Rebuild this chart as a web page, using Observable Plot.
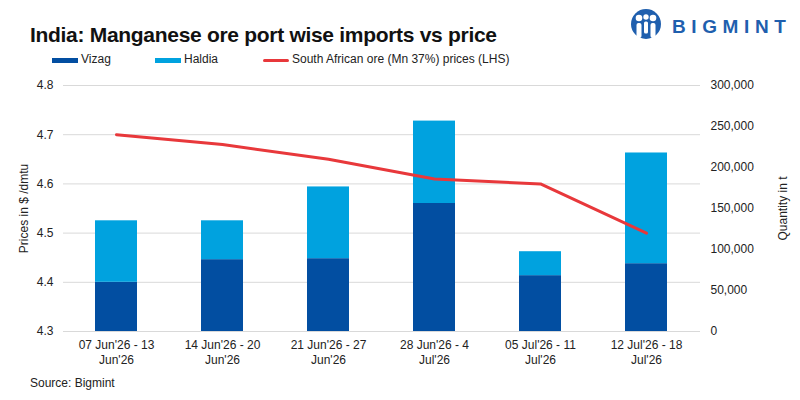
<!DOCTYPE html>
<html>
<head>
<meta charset="utf-8">
<script src="https://cdn.jsdelivr.net/npm/d3@7"></script>
<script src="https://cdn.jsdelivr.net/npm/@observablehq/plot@0.6"></script>
<style>
  body { margin: 0; background: #fff; font-family: "Liberation Sans", Arial, sans-serif; color: #1a1a1a; }
  #wrap { position: relative; width: 800px; height: 400px; overflow: hidden; }
  #title { position: absolute; left: 30px; top: 23px; font-size: 21px; font-weight: bold; letter-spacing: -0.3px; color: #111; white-space: nowrap; }
  #legend { position: absolute; left: 0; top: 52px; font-size: 12px; color: #222; }
  .li { position: absolute; top: 0; white-space: nowrap; }
  .sw { position: absolute; top: 6px; width: 26px; height: 5px; }
  .lt { position: absolute; top: 0; left: 29px; }
  #logo { position: absolute; left: 628px; top: 8px; }
  #chart { position: absolute; left: 0; top: 75px; }
  #source { position: absolute; left: 30px; top: 376px; font-size: 12px; color: #222; }
</style>
</head>
<body>
<div id="wrap">
  <div id="title">India: Manganese ore port wise imports vs price</div>
  <div id="legend"></div>
  <svg id="logo" width="172" height="32" viewBox="0 0 172 32">
    <circle cx="18" cy="16" r="15" fill="#1f5fae"/>
    <circle cx="11" cy="10" r="3.3" fill="#fff"/>
    <circle cx="25" cy="10" r="3.3" fill="#fff"/>
    <circle cx="18" cy="9" r="2.7" fill="#fff"/>
    <rect x="8.5" y="15" width="5" height="15" rx="2" fill="#fff"/>
    <rect x="22.5" y="15" width="5" height="15" rx="2" fill="#fff"/>
    <rect x="16" y="13.5" width="4" height="12" rx="1.5" fill="#fff"/>
    <text x="44" y="25" font-family="Liberation Sans, Arial, sans-serif" font-weight="bold" font-size="19" letter-spacing="5.6" fill="#1f5fae">BIGMINT</text>
  </svg>
  <div id="chart"></div>
  <div id="source">Source: Bigmint</div>
</div>
<script>
// ---- data ----
const weeks = [
  "07 Jun'26 - 13\nJun'26",
  "14 Jun'26 - 20\nJun'26",
  "21 Jun'26 - 27\nJun'26",
  "28 Jun'26 - 4\nJul'26",
  "05 Jul'26 - 11\nJul'26",
  "12 Jul'26 - 18\nJul'26"
];
const vizag  = [60000, 87600, 88800, 156100, 68100, 82700];
const haldia = [75000, 47400, 87500, 100500, 29200, 135000];
const prices = [4.70, 4.68, 4.65, 4.61, 4.60, 4.50];
const series = ["Vizag", "Haldia", "South African ore (Mn 37%) prices (LHS)"];
const colors = ["#024ea1", "#00a2df", "#e8383b"];
const qtyTicks = [0, 50000, 100000, 150000, 200000, 250000, 300000];
const priceTicks = [4.3, 4.4, 4.5, 4.6, 4.7, 4.8];
const priceDomain = [4.3, 4.8];
const qtyDomain = [0, 300000];

// ---- legend ----
const legend = document.getElementById("legend");
const legendX = [52, 155, 263];
series.forEach((s, i) => {
  const d = document.createElement("div");
  d.className = "li";
  d.style.left = legendX[i] + "px";
  const sw = document.createElement("div");
  sw.className = "sw";
  sw.style.background = colors[i];
  if (i === 2) { sw.style.height = "3px"; sw.style.top = "7px"; sw.style.borderRadius = "2px"; }
  const t = document.createElement("div");
  t.className = "lt";
  t.textContent = s;
  d.appendChild(sw); d.appendChild(t);
  legend.appendChild(d);
});

// ---- build tables ----
const barData = [];
weeks.forEach((w, i) => {
  barData.push({week: w, port: "Vizag", value: vizag[i]});
  barData.push({week: w, port: "Haldia", value: haldia[i]});
});
// map price (LHS) onto the quantity (RHS) scale
const p2q = p => (p - priceDomain[0]) / (priceDomain[1] - priceDomain[0]) * (qtyDomain[1] - qtyDomain[0]) + qtyDomain[0];
const lineData = weeks.map((w, i) => ({week: w, price: prices[i], q: p2q(prices[i])}));
const priceTickQ = priceTicks.map(p2q);
const priceLabel = new Map(priceTicks.map(p => [p2q(p), p.toFixed(1)]));

const chart = Plot.plot({
  width: 800,
  height: 300,
  marginTop: 10,
  marginBottom: 44,
  marginLeft: 63,
  marginRight: 100,
  style: {fontFamily: "'Liberation Sans', Arial, sans-serif", fontSize: "12px", color: "#222", background: "transparent"},
  x: {domain: weeks, paddingInner: 0.6, paddingOuter: 0.3, align: 0.5},
  y: {domain: qtyDomain},
  color: {domain: ["Vizag", "Haldia"], range: [colors[0], colors[1]]},
  marks: [
    Plot.gridY(priceTickQ, {stroke: "#d9d9d9", strokeOpacity: 1, strokeWidth: 1}),
    Plot.barY(barData, Plot.stackY({x: "week", y: "value", fill: "port", order: ["Vizag", "Haldia"]})),
    Plot.line(lineData, {x: "week", y: "q", stroke: colors[2], strokeWidth: 3}),
    Plot.axisX({tickSize: 0, tickPadding: 7, lineHeight: 1.25, label: null, fontSize: 12, letterSpacing: -0.3}),
    Plot.axisY({anchor: "left", ticks: priceTickQ, tickSize: 0, tickPadding: 10,
      tickFormat: q => priceLabel.get(q),
      label: "Prices in $ /dmtu", labelAnchor: "center", labelArrow: "none", labelOffset: 44}),
    Plot.axisY({anchor: "right", ticks: qtyTicks, tickSize: 0, tickPadding: 10,
      tickFormat: d3.format(","),
      label: "Quantity in t", labelAnchor: "center", labelArrow: "none", labelOffset: 86})
  ]
});
document.getElementById("chart").appendChild(chart);
</script>
</body>
</html>
